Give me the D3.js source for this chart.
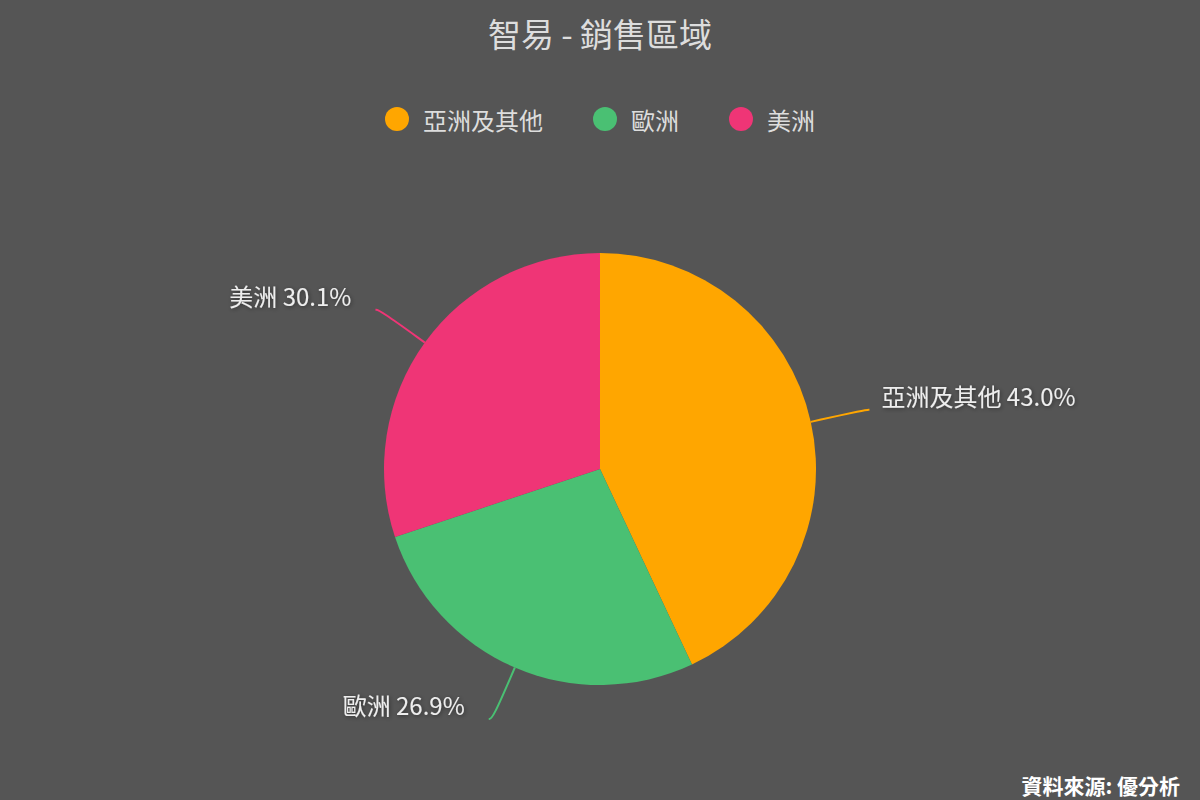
<!DOCTYPE html>
<html>
<head>
<meta charset="utf-8">
<script src="https://d3js.org/d3.v7.min.js"></script>
<style>
  html, body { margin:0; padding:0; background:#555555; }
  text { font-family: "Noto Sans CJK TC", "Noto Sans", sans-serif; }
</style>
</head>
<body>
  <div id="chart"></div>
  <script>
    var categories = ["亞洲及其他", "歐洲", "美洲"];
    var values = [43.0, 26.9, 30.1];
    var colors = ["#FFA600", "#4AC073", "#EF3576"];
    var title = "智易 - 銷售區域";
    var source = "資料來源: 優分析";

    var width = 1200, height = 800;
    var cx = 600, cy = 469, radius = 216;

    var svg = d3.select("#chart")
      .append("svg")
      .attr("width", width)
      .attr("height", height)
      .style("background", "#555555");

    var defs = svg.append("defs");
    var f = defs.append("filter").attr("id", "shadow")
      .attr("x", "-10%").attr("y", "-30%").attr("width", "120%").attr("height", "160%");
    f.append("feDropShadow")
      .attr("dx", 1).attr("dy", 1).attr("stdDeviation", 2)
      .attr("flood-color", "#000").attr("flood-opacity", 0.45);

    // title
    svg.append("text")
      .attr("x", width / 2)
      .attr("y", 33)
      .attr("text-anchor", "middle")
      .attr("dominant-baseline", "central")
      .style("font-size", "33px")
      .style("fill", "#dddddd")
      .text(title);

    // legend
    var legend = svg.append("g");
    var items = legend.selectAll("g").data(categories).enter().append("g");
    items.append("circle")
      .attr("r", 12)
      .attr("cx", 12)
      .attr("cy", 0)
      .attr("fill", function(d, i) { return colors[i]; });
    items.append("text")
      .attr("x", 38)
      .attr("y", 0)
      .attr("dominant-baseline", "central")
      .style("font-size", "24px")
      .style("fill", "#dddddd")
      .text(function(d) { return d; });

    var gap = 50, offs = [], total = 0;
    items.each(function(d, i) {
      var w = 38 + d3.select(this).select("text").node().getComputedTextLength();
      offs.push(total);
      total += w + (i < categories.length - 1 ? gap : 0);
    });
    items.attr("transform", function(d, i) {
      return "translate(" + (width / 2 - total / 2 + offs[i]) + ",119)";
    });

    // pie
    var data = categories.map(function(c, i) { return { name: c, value: values[i], color: colors[i] }; });
    var pie = d3.pie().value(function(d) { return d.value; }).sort(null);
    var arcs = pie(data);
    var arc = d3.arc().innerRadius(0).outerRadius(radius);

    var g = svg.append("g").attr("transform", "translate(" + cx + "," + cy + ")");

    g.selectAll("path.slice")
      .data(arcs)
      .enter().append("path")
      .attr("class", "slice")
      .attr("d", arc)
      .attr("fill", function(d) { return d.data.color; });

    // labels with leader lines
    var len1 = 56, len2 = 4;
    function pt(a, r) { return [Math.sin(a) * r, -Math.cos(a) * r]; }
    var line = d3.line().curve(d3.curveBasis);

    arcs.forEach(function(d) {
      var mid = (d.startAngle + d.endAngle) / 2;
      var right = Math.sin(mid) > 0;
      var p0 = pt(mid, radius);
      var p1 = pt(mid, radius + len1);
      var p2 = [p1[0] + (right ? len2 : -len2), p1[1]];
      g.append("path")
        .attr("d", line([p0, p1, p2]))
        .attr("fill", "none")
        .attr("stroke", d.data.color)
        .attr("stroke-width", 2);
      g.append("text")
        .attr("x", p2[0] + (right ? 12 : -24))
        .attr("y", p2[1] - 14)
        .attr("text-anchor", right ? "start" : "end")
        .attr("dominant-baseline", "central")
        .attr("filter", "url(#shadow)")
        .style("font-size", "24px")
        .style("fill", "#eeeeee")
        .text(d.data.name + " " + d.data.value.toFixed(1) + "%");
    });

    // source
    svg.append("text")
      .attr("x", 1180)
      .attr("y", 785)
      .attr("text-anchor", "end")
      .attr("dominant-baseline", "central")
      .style("font-size", "21px")
      .style("font-weight", "600")
      .style("fill", "#ffffff")
      .text(source);
  </script>
</body>
</html>
